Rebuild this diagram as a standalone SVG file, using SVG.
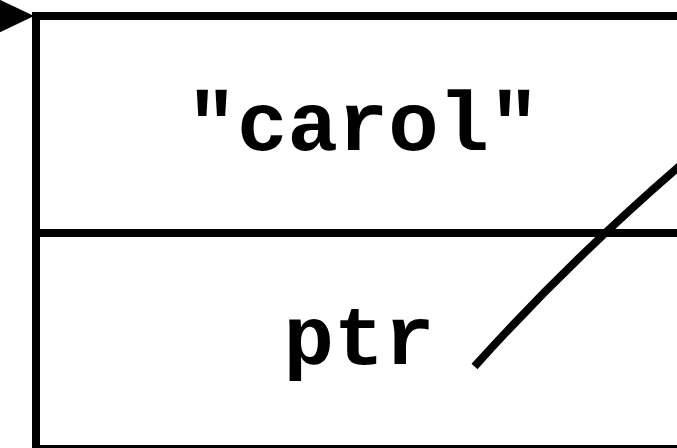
<svg xmlns="http://www.w3.org/2000/svg" width="677" height="448" viewBox="0 0 677 448">
  <style>
    .box { fill: #ffffff; stroke: #000000; stroke-width: 8; }
    .sep { stroke: #000000; stroke-width: 8; }
    .lbl { font-family: "Courier New", "Liberation Mono", monospace; font-weight: bold; font-size: 84px; fill: #000000; text-anchor: middle; }
    .wire { fill: none; stroke: #000000; stroke-width: 8; stroke-linecap: butt; }
  </style>
  <rect width="677" height="448" fill="#ffffff"/>

  <!-- record node: name field over pointer field -->
  <g id="node-carol">
    <rect class="box" x="36" y="16" width="660" height="433"/>
    <line class="sep" x1="36" y1="233" x2="700" y2="233"/>
    <text class="lbl" x="363" y="150">"carol"</text>
    <text class="lbl" x="359" y="364">ptr</text>
  </g>

  <g id="connectors">
    <!-- incoming pointer ending at the record's corner -->
    <polygon points="34,16 -6,-3 -6,35" fill="#000000"/>
    <!-- outgoing pointer from the ptr field -->
    <path class="wire" d="M474.5,366.5 Q572,258 690,157"/>
  </g>
</svg>
